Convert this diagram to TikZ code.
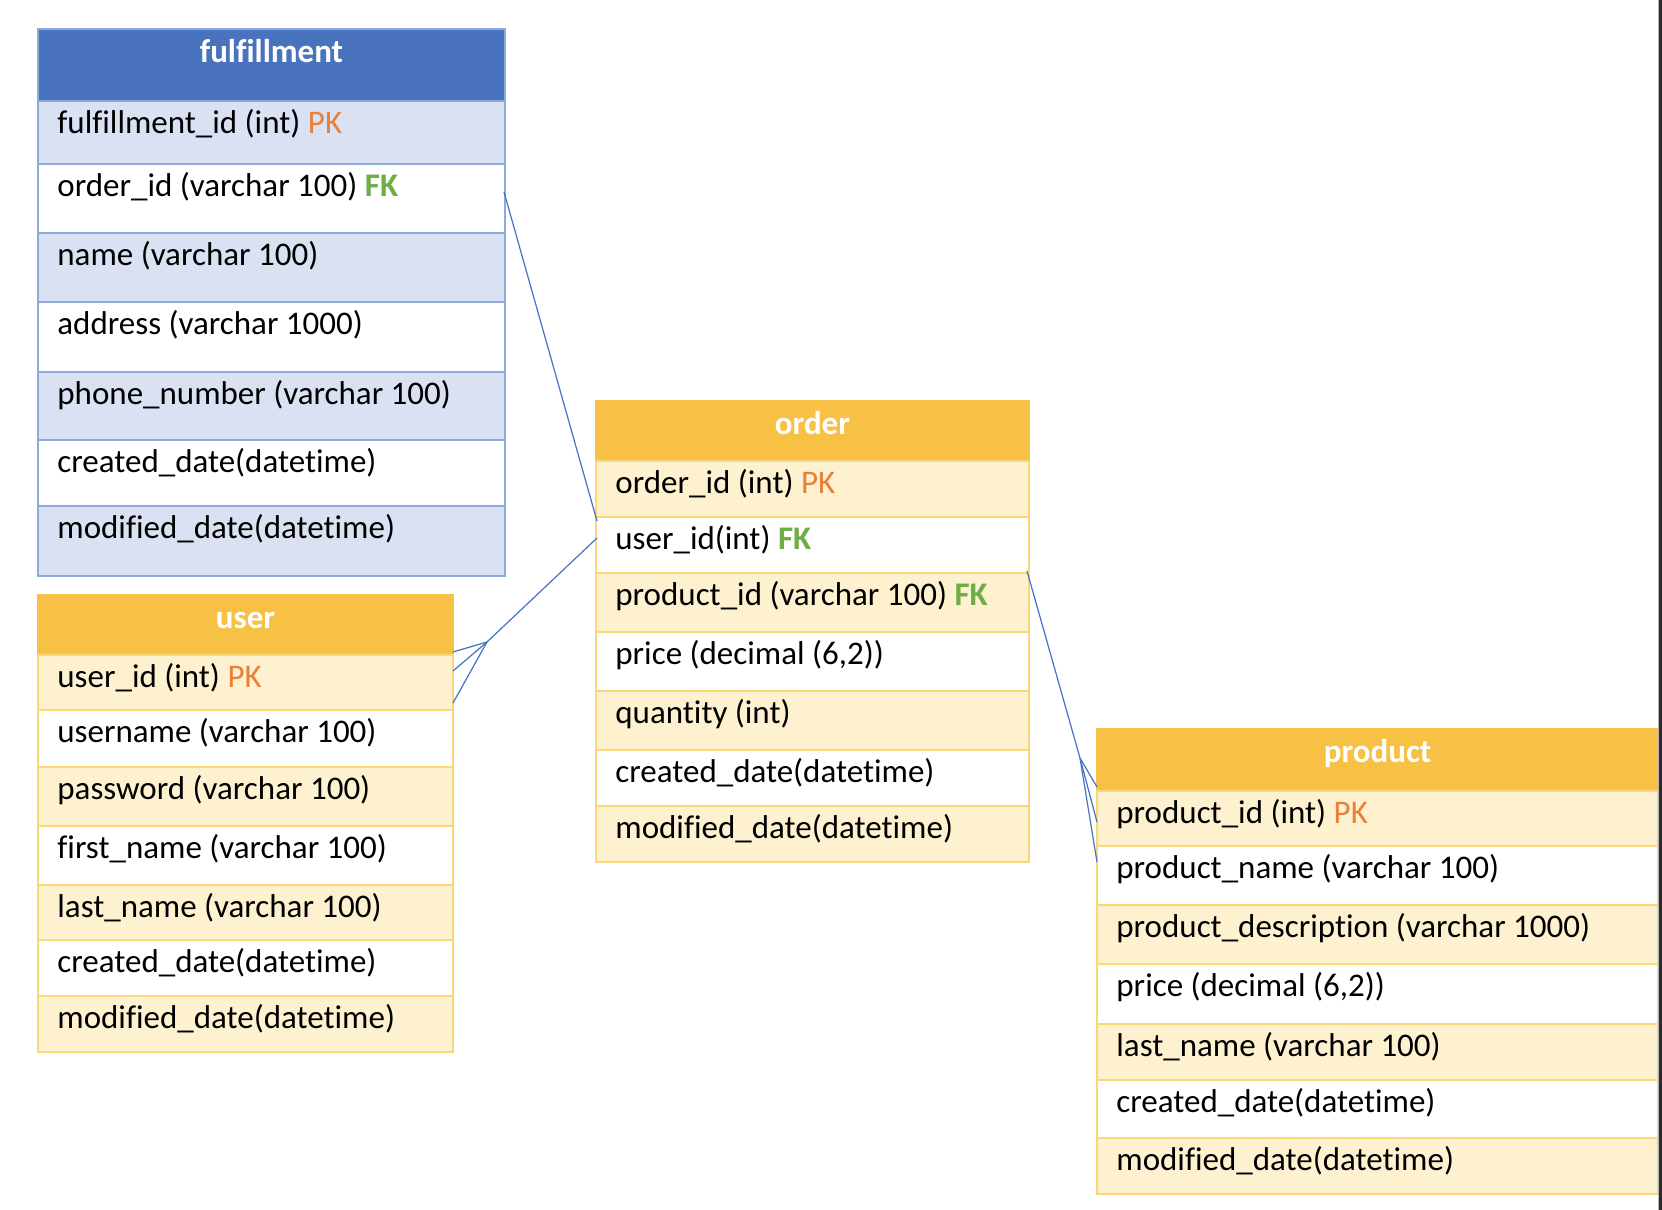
\documentclass[tikz,border=0pt]{standalone}
\usepackage{fontspec}
\setmainfont{Carlito}[Ligatures=NoCommon]
\usetikzlibrary{calc}
\definecolor{blueHead}{HTML}{4A73BE}
\definecolor{blueRow}{HTML}{D9E1F2}
\definecolor{blueBorder}{HTML}{8EA9DB}
\definecolor{goldHead}{HTML}{F6C144}
\definecolor{goldRow}{HTML}{FDF1D0}
\definecolor{goldBorder}{HTML}{FBD77A}
\definecolor{pkColor}{HTML}{E8803A}
\definecolor{fkColor}{HTML}{70AD47}
\definecolor{linkColor}{HTML}{4472C4}
\definecolor{barGray}{HTML}{B8B8B8}
\definecolor{barDark}{HTML}{2B2B2B}
\newcommand{\pk}{\textcolor{pkColor}{PK}}
\newcommand{\fk}{\textcolor{fkColor}{\textbf{FK}}}
% name, left, top, right, bottom, style, text
\newcommand{\erow}[7]{%
  \node[#6, anchor=north west, minimum width={(#4-#2)*0.5pt}, minimum height={(#5-#3)*0.5pt}] (#1) at (#2,#3) {};
  \node[rowtext, anchor=base west] (#1t) at (#2+19,#3+32) {#7};
}
% name, left, top, right, bottom, style, title
\newcommand{\ehead}[7]{%
  \node[#6, anchor=north west, minimum width={(#4-#2)*0.5pt}, minimum height={(#5-#3)*0.5pt}] (#1) at (#2,#3) {};
  \node[headtext, anchor=base] (#1t) at ({(#2+#4)/2},#3+33) {#7};
}
\tikzset{
  ercell/.style={inner sep=0pt, outer sep=0pt, line width=1pt},
  bluehead/.style={ercell, fill=blueHead, draw=blueHead},
  bluerow/.style={ercell, fill=blueRow, draw=blueBorder},
  bluewhite/.style={ercell, fill=white, draw=blueBorder},
  goldhead/.style={ercell, fill=goldHead, draw=goldHead},
  goldrow/.style={ercell, fill=goldRow, draw=goldBorder},
  goldwhite/.style={ercell, fill=white, draw=goldBorder},
  rowtext/.style={inner sep=0pt, font=\fontsize{16.5pt}{19pt}\selectfont, text=black},
  headtext/.style={inner sep=0pt, font=\fontsize{16.5pt}{19pt}\selectfont\bfseries, text=white},
  erlink/.style={draw=linkColor, line width=0.6pt},
}
\begin{document}
\begin{tikzpicture}[x=0.5pt, y=-0.5pt]
\fill[white] (0,0) rectangle (1662,1210);
\useasboundingbox (0,0) rectangle (1662,1210);

% fulfillment
\ehead{fh}{38}{29}{505}{101}{bluehead}{fulfillment}
\erow{f1}{38}{101}{505}{164}{bluerow}{fulfillment\_id (int) \pk}
\erow{f2}{38}{164}{505}{233}{bluewhite}{order\_id (varchar 100) \fk}
\erow{f3}{38}{233}{505}{302}{bluerow}{name (varchar 100)}
\erow{f4}{38}{302}{505}{372}{bluewhite}{address (varchar 1000)}
\erow{f5}{38}{372}{505}{440}{bluerow}{phone\_number (varchar 100)}
\erow{f6}{38}{440}{505}{506}{bluewhite}{created\_date(datetime)}
\erow{f7}{38}{506}{505}{576}{bluerow}{modified\_date(datetime)}
\draw[blueBorder, line width=1pt] (fh.north west) rectangle (f7.south east);

% user
\ehead{uh}{38}{595}{453}{655}{goldhead}{user}
\erow{u1}{38}{655}{453}{710}{goldrow}{user\_id (int) \pk}
\erow{u2}{38}{710}{453}{767}{goldwhite}{username (varchar 100)}
\erow{u3}{38}{767}{453}{826}{goldrow}{password (varchar 100)}
\erow{u4}{38}{826}{453}{885}{goldwhite}{first\_name (varchar 100)}
\erow{u5}{38}{885}{453}{940}{goldrow}{last\_name (varchar 100)}
\erow{u6}{38}{940}{453}{996}{goldwhite}{created\_date(datetime)}
\erow{u7}{38}{996}{453}{1052}{goldrow}{modified\_date(datetime)}

% order
\ehead{oh}{596}{401}{1029}{461}{goldhead}{order}
\erow{o1}{596}{461}{1029}{517}{goldrow}{order\_id (int) \pk}
\erow{o2}{596}{517}{1029}{573}{goldwhite}{user\_id(int) \fk}
\erow{o3}{596}{573}{1029}{632}{goldrow}{product\_id (varchar 100) \fk}
\erow{o4}{596}{632}{1029}{691}{goldwhite}{price (decimal (6,2))}
\erow{o5}{596}{691}{1029}{750}{goldrow}{quantity (int)}
\erow{o6}{596}{750}{1029}{806}{goldwhite}{created\_date(datetime)}
\erow{o7}{596}{806}{1029}{862}{goldrow}{modified\_date(datetime)}

% product
\ehead{ph}{1097}{729}{1658}{791}{goldhead}{product}
\erow{p1}{1097}{791}{1658}{846}{goldrow}{product\_id (int) \pk}
\erow{p2}{1097}{846}{1658}{905}{goldwhite}{product\_name (varchar 100)}
\erow{p3}{1097}{905}{1658}{964}{goldrow}{product\_description (varchar 1000)}
\erow{p4}{1097}{964}{1658}{1024}{goldwhite}{price (decimal (6,2))}
\erow{p5}{1097}{1024}{1658}{1080}{goldrow}{last\_name (varchar 100)}
\erow{p6}{1097}{1080}{1658}{1138}{goldwhite}{created\_date(datetime)}
\erow{p7}{1097}{1138}{1658}{1194}{goldrow}{modified\_date(datetime)}

% connector anchor points
\coordinate (fEnd) at ($(f2.north east)+(-1,28)$);
\coordinate (oA) at ($(o2.north west)+(1,4)$);
\coordinate (oB) at ($(o2.north west)+(1,21)$);
\coordinate (uHub) at (487,642);
\coordinate (uP1) at ($(u1.north east)+(0,-3)$);
\coordinate (uP2) at ($(u1.north east)+(0,16)$);
\coordinate (uP3) at ($(u1.north east)+(0,48)$);
\coordinate (oC) at ($(o2.south east)+(-2,-2)$);
\coordinate (pHub) at (1080,758);
\coordinate (pP1) at ($(ph.south west)+(0,-4)$);
\coordinate (pP2) at ($(p1.north west)+(0,31)$);
\coordinate (pP3) at ($(p2.north west)+(0,16)$);

% fulfillment -> order
\draw[erlink] (fEnd) -- (oA);
% order -> user (crow's foot at user)
\draw[erlink] (oB) -- (uHub);
\draw[erlink] (uHub) -- (uP1);
\draw[erlink] (uHub) -- (uP2);
\draw[erlink] (uHub) -- (uP3);
% order -> product (crow's foot at product)
\draw[erlink] (oC) -- (pHub);
\draw[erlink] (pHub) -- (pP1);
\draw[erlink] (pHub) -- (pP2);
\draw[erlink] (pHub) -- (pP3);

% right screen edge
\fill[barGray] (1658,0) rectangle (1659,1210);
\fill[barDark] (1659,0) rectangle (1662,1210);
\end{tikzpicture}
\end{document}
